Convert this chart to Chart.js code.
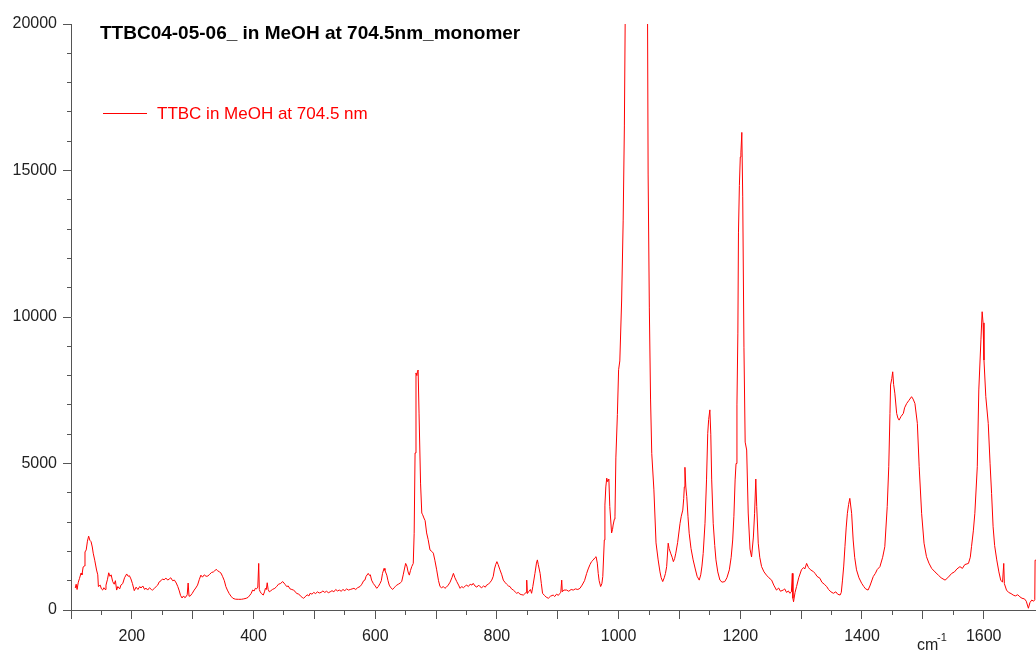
<!DOCTYPE html>
<html>
<head>
<meta charset="utf-8">
<title>TTBC Raman spectrum</title>
<script src="https://cdn.jsdelivr.net/npm/chart.js@4.4.1/dist/chart.umd.min.js"></script>
<style>
  html, body { margin: 0; padding: 0; background: #fff; }
  #wrap { width: 1036px; height: 652px; position: relative; }
</style>
</head>
<body>
<div id="wrap"><canvas id="ramanChart"></canvas></div>
<script>
// Raman shift (cm-1) and counts for TTBC in MeOH, 704.5 nm excitation
const wavenumber = [
  107, 108.5, 110, 112, 114, 116.5, 118, 120, 122, 123, 125, 127, 129, 131, 133, 135, 136.5, 139, 142, 144,
  145, 148, 150, 152, 154, 156, 157.5, 160, 162, 164, 166, 168.5, 171, 173, 175, 177, 180, 182, 185, 188,
  191.5, 194, 196, 198.5, 201, 204, 207, 210, 213, 215, 218, 221, 223, 226, 229, 232, 234, 237, 240, 242.5,
  245, 248, 250.5, 253, 256, 259, 261.5, 264, 267, 270, 273, 275.5, 278, 280, 282.5, 285, 287, 289, 291, 292.5,
  294, 296, 299, 302.5, 305, 308, 311, 313.5, 316, 319, 322, 325, 328, 331, 334, 336, 338.5, 341, 344, 346.5,
  349, 352, 354.5, 357, 360, 363, 366, 370, 375, 380, 384, 388, 391, 393, 396, 398.5, 401, 403, 405, 407,
  408.5, 409.5, 411, 413, 416, 418, 419.5, 421, 422.5, 424, 426, 428, 431, 435, 438, 441, 444, 448, 450, 452,
  454.5, 457, 460, 463, 465.5, 468, 471, 474, 477, 480, 482, 485, 488, 491, 493, 496, 499, 502, 505, 508,
  511, 514, 517, 520, 523, 526, 529, 532, 535, 538, 541, 544, 547, 550, 553, 556, 559, 562, 565, 568,
  571, 575, 578, 581, 583, 585, 588.5, 590.5, 592, 594, 597, 600, 602.5, 605, 608, 610, 612, 614.5, 616, 619,
  621, 623, 625, 628.5, 631, 633, 635.5, 638, 641, 643.5, 646, 648, 650, 652, 654, 656, 658, 660, 662.5, 664,
  665.5, 667, 668.5, 669.5, 670.5, 672, 674.5, 676.5, 678, 680, 682, 684.5, 687, 690, 693, 695.5, 698, 701, 704, 706.5,
  709, 712, 714.5, 717, 720, 723, 726, 728.5, 731, 734, 737, 739.5, 742, 745, 748, 750.5, 753, 756, 759, 761,
  764, 767, 770, 772, 775, 778, 781, 783, 786, 789, 791.5, 794, 796, 798, 800, 802, 805, 808, 810.5, 813,
  816, 819, 821.5, 824, 827, 830, 832.5, 835, 838, 841, 843.5, 846, 848, 849, 850, 852, 855, 857, 859, 862.5,
  865, 866.5, 868, 871, 873, 875, 878, 881, 884.5, 888, 892.5, 895, 898, 901, 903.5, 905, 906.5, 907.5, 910, 914.5,
  918, 922, 925.5, 929, 933, 936.5, 940, 944, 947.5, 950, 953, 955.5, 958, 961, 963, 965, 966.5, 968, 970.5, 972.5,
  974, 976.5, 977.5, 979, 980.5, 982, 984, 985.5, 988.5, 990, 991, 993, 994, 995.5, 998, 1000, 1002, 1005, 1007.5, 1009.5,
  1011, 1020, 1038, 1047.5, 1048.5, 1050.5, 1052.5, 1054.5, 1058, 1061.5, 1065, 1068, 1070, 1072.5, 1075, 1077, 1079, 1081.5, 1083, 1085.5,
  1088, 1090, 1092, 1094, 1097, 1101, 1103, 1105.5, 1107, 1108, 1109, 1110.5, 1112, 1114, 1116, 1119, 1122.5, 1126, 1129, 1132.5,
  1135, 1137, 1139, 1142, 1144.5, 1146.5, 1148, 1150, 1151.5, 1153, 1155.5, 1158, 1160, 1163, 1166.5, 1170, 1174.5, 1178, 1182, 1185,
  1187.5, 1189.5, 1191.5, 1193, 1194.5, 1196, 1197, 1198.5, 1200, 1201, 1202.5, 1204, 1206, 1208, 1210.5, 1213, 1216, 1218.5, 1221.5, 1223.5,
  1225.5, 1227, 1229.5, 1232, 1235, 1239, 1243, 1247, 1251.5, 1255, 1259.5, 1263, 1266, 1270.5, 1273, 1276, 1279, 1281.5, 1284, 1285.5,
  1286.5, 1287.5, 1290, 1292.5, 1296, 1300.5, 1304, 1306, 1309, 1312, 1315, 1320, 1323, 1326, 1331, 1334, 1338, 1342, 1345, 1349,
  1353, 1357, 1360, 1364, 1366, 1368, 1370, 1372, 1374, 1376, 1378, 1380, 1383, 1385.5, 1388, 1391, 1395, 1399.5, 1403, 1406,
  1410, 1413, 1418.5, 1422, 1425, 1429.5, 1434, 1437.5, 1441.5, 1444, 1446, 1447, 1449, 1450.5, 1452, 1454, 1457, 1459, 1461, 1464,
  1468, 1470, 1473.5, 1477, 1481.5, 1484, 1487, 1491, 1494, 1498, 1502, 1506, 1510, 1514.5, 1520, 1525.5, 1530, 1536.5, 1541, 1547.5,
  1552, 1556, 1561, 1565, 1569, 1575, 1578, 1580, 1583, 1585.5, 1589.5, 1592, 1595.5, 1597.5, 1599, 1600.5, 1603.5, 1607.5, 1610.5, 1613,
  1615.5, 1618, 1621.5, 1625, 1628, 1631, 1633, 1634, 1637.5, 1641, 1645, 1648.5, 1652, 1656, 1659.5, 1663, 1667, 1670, 1673.5, 1676,
  1679, 1682, 1684, 1684.5, 1686
];
const intensity = [
  750, 880, 700, 950, 1080, 1260, 1200, 1470, 1500, 1980, 2050, 2350, 2520, 2380, 2330, 2150, 1940, 1700, 1365, 1200,
  800, 850, 720, 680, 760, 700, 850, 1050, 1270, 1150, 1200, 970, 880, 1000, 680, 800, 720, 850, 900, 1100,
  1230, 1150, 1170, 1060, 900, 660, 780, 700, 800, 750, 820, 700, 750, 680, 760, 700, 680, 740, 800, 850,
  960, 1000, 1060, 1030, 1090, 1020, 1060, 1100, 1000, 1020, 920, 800, 650, 500, 410, 480, 420, 450, 520, 920,
  470, 480, 560, 680, 750, 850, 1050, 1190, 1120, 1200, 1150, 1160, 1220, 1280, 1300, 1330, 1390, 1340, 1300, 1260,
  1150, 1000, 800, 680, 560, 470, 400, 370, 365, 365, 380, 400, 430, 480, 560, 680, 650, 740, 720, 780,
  1590, 700, 620, 560, 510, 620, 740, 700, 930, 700, 620, 650, 700, 740, 800, 880, 900, 970, 920, 870,
  800, 820, 720, 700, 680, 640, 560, 550, 480, 430, 400, 450, 520, 480, 570, 540, 600, 560, 620, 580,
  600, 650, 600, 640, 590, 620, 660, 620, 700, 650, 680, 640, 700, 660, 720, 680, 700, 720, 740, 700,
  760, 800, 880, 1000, 1020, 1150, 1250, 1180, 1200, 1020, 900, 820, 740, 800, 910, 1000, 1250, 1420, 1350, 1190,
  1000, 850, 780, 700, 760, 800, 850, 880, 920, 970, 1200, 1400, 1590, 1500, 1300, 1190, 1350, 1480, 1590, 2620,
  5360, 8090, 8000, 8150, 8190, 6720, 4330, 3310, 3250, 3140, 3050, 2630, 2400, 2050, 2000, 1940, 1700, 1370, 1000, 800,
  760, 800, 740, 780, 850, 950, 1100, 1250, 1100, 970, 850, 740, 800, 760, 820, 850, 800, 880, 850, 910,
  820, 780, 850, 800, 760, 820, 780, 850, 880, 950, 1020, 1150, 1400, 1550, 1650, 1550, 1370, 1200, 1020, 950,
  880, 820, 800, 720, 680, 620, 570, 600, 540, 520, 510, 560, 600, 1020, 560, 620, 700, 570, 800, 1250,
  1600, 1710, 1550, 1250, 900, 570, 500, 440, 400, 470, 510, 460, 540, 500, 570, 600, 1020, 620, 680, 680,
  640, 700, 680, 720, 700, 740, 850, 1000, 1250, 1400, 1550, 1650, 1700, 1780, 1820, 1600, 1250, 1000, 800, 900,
  1140, 2390, 3580, 4200, 4500, 4380, 4470, 3530, 2630, 2750, 2900, 3100, 3180, 5190, 6670, 8200, 8500, 10580, 13280, 16520,
  20600, 28000, 28000, 20600, 14880, 10310, 7200, 5340, 4100, 2290, 1710, 1300, 1100, 970, 1100, 1250, 1480, 2280, 2100, 1940,
  1800, 1650, 1750, 1940, 2300, 2960, 3200, 3410, 3800, 4200, 4870, 4200, 3870, 3200, 2620, 2100, 1710, 1400, 1150, 1020,
  1200, 1500, 1930, 2960, 4440, 6030, 6500, 6830, 6000, 4440, 2960, 2200, 1710, 1300, 1020, 950, 970, 1100, 1370, 1800,
  2390, 3200, 4440, 5000, 7000, 9450, 12870, 14490, 15460, 15600, 16300, 14100, 8970, 5730, 5460, 3310, 2080, 1810, 2490, 3300,
  4470, 3530, 2280, 1800, 1480, 1300, 1190, 1100, 1020, 850, 680, 750, 640, 680, 720, 600, 650, 570, 620, 1250,
  400, 280, 600, 800, 1100, 1370, 1450, 1400, 1590, 1450, 1380, 1310, 1250, 1150, 1080, 950, 880, 800, 700, 620,
  570, 620, 540, 510, 600, 1020, 1500, 2160, 2800, 3300, 3600, 3810, 3300, 2390, 1800, 1370, 1100, 910, 800, 720,
  680, 820, 1140, 1250, 1380, 1480, 1800, 2160, 3530, 4890, 6710, 7680, 7900, 8130, 7700, 7400, 6710, 6550, 6480, 6600,
  6710, 6900, 7050, 7150, 7280, 7200, 7050, 6370, 4890, 3300, 2280, 1820, 1600, 1420, 1300, 1190, 1100, 1020, 1100, 1250,
  1300, 1400, 1480, 1420, 1550, 1590, 1800, 2160, 2700, 3300, 4890, 7510, 9220, 10180, 9800, 8530, 7280, 6370, 5010, 3980,
  2840, 2200, 1710, 1300, 1020, 950, 1590, 900, 680, 600, 560, 510, 480, 520, 450, 400, 380, 300, 60, 250,
  340, 300, 350, 1700, 1700
];

const xLabelTicks = [200, 400, 600, 800, 1000, 1200, 1400, 1600];
const yLabelTicks = [0, 5000, 10000, 15000, 20000];

const titleText = 'TTBC04-05-06_ in MeOH at 704.5nm_monomer';
const seriesLabel = 'TTBC in MeOH at 704.5 nm';
const lineColor = '#ff0000';
const axisColor = '#555555';
const fontFamily = '"Liberation Sans", Arial, sans-serif';

// title, legend entry and axis unit are drawn straight onto the canvas
const annotations = {
  id: 'annotations',
  afterDraw(chart) {
    const ctx = chart.ctx;
    ctx.save();
    ctx.textAlign = 'left';
    ctx.textBaseline = 'alphabetic';
    ctx.fillStyle = '#000';
    ctx.font = 'bold 19px ' + fontFamily;
    ctx.fillText(titleText, 100, 39);

    ctx.strokeStyle = lineColor;
    ctx.lineWidth = 1;
    ctx.beginPath();
    ctx.moveTo(103, 113.5);
    ctx.lineTo(147, 113.5);
    ctx.stroke();
    ctx.fillStyle = lineColor;
    ctx.font = '17px ' + fontFamily;
    ctx.fillText(seriesLabel, 157, 119);

    ctx.fillStyle = '#222';
    ctx.font = '16px ' + fontFamily;
    ctx.fillText('cm', 917, 650);
    ctx.font = '11px ' + fontFamily;
    ctx.fillText('-1', 937, 641);
    ctx.restore();
  }
};

new Chart(document.getElementById('ramanChart'), {
  type: 'line',
  data: {
    datasets: [{
      label: seriesLabel,
      data: wavenumber.map((x, i) => ({ x: x, y: intensity[i] })),
      borderColor: lineColor,
      borderWidth: 1,
      pointRadius: 0,
      tension: 0,
      fill: false
    }]
  },
  options: {
    responsive: true,
    maintainAspectRatio: false,
    animation: false,
    layout: { padding: { top: 24, right: 0, bottom: 0, left: 0 } },
    plugins: {
      legend: { display: false },
      tooltip: { enabled: false }
    },
    scales: {
      x: {
        type: 'linear',
        min: 100,
        max: 1686,
        border: { color: axisColor, width: 1 },
        grid: {
          drawOnChartArea: false,
          // long slot so labels sit low; the dash keeps the visible mark short
          tickLength: 17,
          tickColor: axisColor,
          tickBorderDash: (c) => (c.tick && c.tick.value % 100 === 0 ? [8, 40] : [4, 40])
        },
        ticks: {
          stepSize: 50,
          autoSkip: false,
          maxRotation: 0,
          padding: 0,
          color: '#222',
          font: { family: fontFamily, size: 16 },
          callback: (v) => (xLabelTicks.includes(v) ? String(v) : '')
        },
        afterFit: (scale) => { scale.height = 42; }
      },
      y: {
        min: 0,
        max: 20000,
        border: { color: axisColor, width: 1 },
        grid: {
          drawOnChartArea: false,
          tickLength: 8,
          tickColor: axisColor,
          tickBorderDash: (c) => (c.tick && c.tick.value % 5000 === 0 ? [] : [0, 4, 4, 20])
        },
        ticks: {
          stepSize: 1000,
          autoSkip: false,
          padding: 6,
          color: '#222',
          font: { family: fontFamily, size: 16 },
          callback: (v) => (yLabelTicks.includes(v) ? String(v) : '')
        },
        afterFit: (scale) => { scale.width = 71; }
      }
    }
  },
  plugins: [annotations]
});
</script>
</body>
</html>
